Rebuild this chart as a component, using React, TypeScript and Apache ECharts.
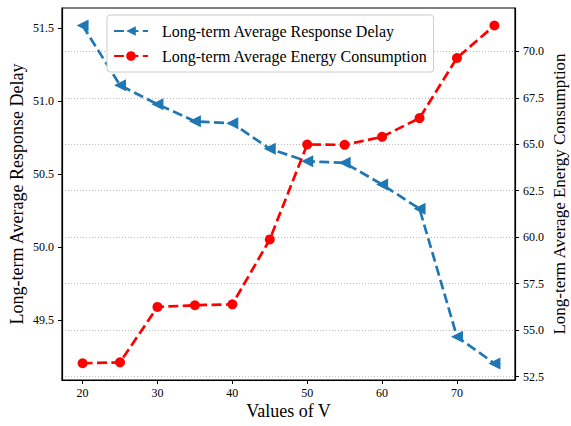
import React, { useEffect, useRef } from "react";
import * as echarts from "echarts";

const xValues = [20, 25, 30, 35, 40, 45, 50, 55, 60, 65, 70, 75];
const delayValues = [51.52, 51.11, 50.98, 50.863, 50.849, 50.674, 50.589, 50.578, 50.43, 50.263, 49.386, 49.203];
const energyValues = [53.22, 53.27, 56.25, 56.34, 56.39, 59.88, 64.99, 64.97, 65.4, 66.41, 69.64, 71.39];
const xTicks = [20, 30, 40, 50, 60, 70];
const leftTicks = [49.5, 50.0, 50.5, 51.0, 51.5];
const rightTicks = [52.5, 55.0, 57.5, 60.0, 62.5, 65.0, 67.5, 70.0];

const FONT = "'Liberation Serif', 'Times New Roman', serif";

export default function App() {
  const ref = useRef<HTMLDivElement>(null);
  useEffect(() => {
    document.body.style.margin = "0";
    if (!ref.current) return;
    const chart = echarts.init(ref.current, undefined, { renderer: "svg" });
    const tickLabel = { color: "#000", fontFamily: FONT, fontSize: 12 };
    const dash = [10, 4.4];
    chart.setOption({
      animation: false,
      backgroundColor: "#fff",
      grid: {
        left: 62,
        right: 56,
        top: 8,
        bottom: 46,
        outerBoundsMode: "none",
        containLabel: false,
        show: true,
        borderColor: "#000",
        borderWidth: 1.2,
        backgroundColor: "transparent",
      },
      legend: {
        orient: "vertical",
        left: 107,
        top: 15,
        padding: [8, 6, 8, 6],
        itemWidth: 34,
        itemHeight: 12,
        itemGap: 9,
        backgroundColor: "#fff",
        borderColor: "#ccc",
        borderWidth: 1,
        borderRadius: 3,
        textStyle: { color: "#000", fontFamily: FONT, fontSize: 16, padding: [0, 0, 0, 9] },
        data: ["Long-term Average Response Delay", "Long-term Average Energy Consumption"],
      },
      xAxis: {
        type: "value",
        min: 17.25,
        max: 77.75,
        name: "Values of V",
        nameLocation: "middle",
        nameGap: 22,
        nameMoveOverlap: false,
        nameTextStyle: { color: "#000", fontFamily: FONT, fontSize: 18 },
        axisLine: { show: true, lineStyle: { color: "#000", width: 1.2 } },
        axisTick: { show: true, length: 4, customValues: xTicks, lineStyle: { color: "#000" } },
        axisLabel: { ...tickLabel, margin: 7, customValues: xTicks },
        splitLine: { show: false },
      },
      yAxis: [
        {
          type: "value",
          min: 49.089,
          max: 51.64,
          position: "left",
          name: "Long-term Average Response Delay",
          nameLocation: "middle",
          nameGap: 36,
          nameMoveOverlap: false,
          nameTextStyle: { color: "#000", fontFamily: FONT, fontSize: 18, lineHeight: 18 },
          axisLine: { show: true, lineStyle: { color: "#000", width: 1.2 } },
          axisTick: { show: true, length: 4, customValues: leftTicks, lineStyle: { color: "#000" } },
          axisLabel: { ...tickLabel, margin: 8, customValues: leftTicks, formatter: (v: number) => v.toFixed(1) },
          splitLine: { show: false },
        },
        {
          type: "value",
          min: 52.32,
          max: 72.33,
          position: "right",
          name: "Long-term Average Energy Consumption",
          nameLocation: "middle",
          nameGap: 36,
          nameRotate: 90,
          nameMoveOverlap: false,
          nameTextStyle: { color: "#000", fontFamily: FONT, fontSize: 17, lineHeight: 17 },
          axisLine: { show: true, lineStyle: { color: "#000", width: 1.2 } },
          axisTick: { show: true, length: 4, customValues: rightTicks, lineStyle: { color: "#000" } },
          axisLabel: { ...tickLabel, margin: 8, customValues: rightTicks, formatter: (v: number) => v.toFixed(1) },
          splitLine: { show: true, lineStyle: { color: "#bbb", width: 1, type: [1, 2] } },
        },
      ],
      series: [
        {
          name: "Long-term Average Response Delay",
          type: "line",
          yAxisIndex: 0,
          data: xValues.map((x, i) => [x, delayValues[i]]),
          symbol: "triangle",
          symbolRotate: 90,
          symbolSize: 12,
          color: "#1f77b4",
          lineStyle: { color: "#1f77b4", width: 2.7, type: dash },
          itemStyle: { color: "#1f77b4" },
          z: 2,
        },
        {
          name: "Long-term Average Energy Consumption",
          type: "line",
          yAxisIndex: 1,
          data: xValues.map((x, i) => [x, energyValues[i]]),
          symbol: "circle",
          symbolSize: 10,
          color: "#ff0000",
          lineStyle: { color: "#ff0000", width: 2.7, type: dash },
          itemStyle: { color: "#ff0000" },
          z: 3,
        },
      ],
    });
    return () => chart.dispose();
  }, []);
  return <div ref={ref} style={{ width: 571, height: 426 }} />;
}
